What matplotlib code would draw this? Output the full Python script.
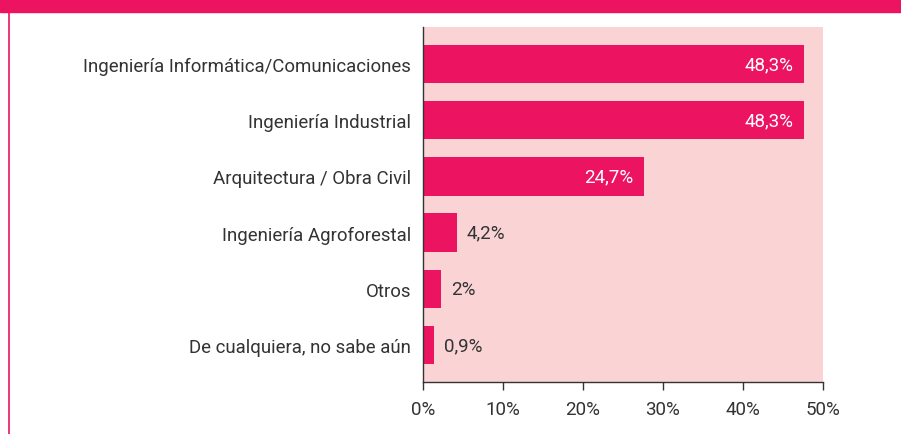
import matplotlib.pyplot as plt
from matplotlib.patches import Rectangle
from matplotlib.lines import Line2D

categories = [
    "Ingeniería Informática/Comunicaciones",
    "Ingeniería Industrial",
    "Arquitectura / Obra Civil",
    "Ingeniería Agroforestal",
    "Otros",
    "De cualquiera, no sabe aún",
]
# bar lengths as drawn in the picture (%)
bar_values = [47.6, 47.6, 27.6, 4.25, 2.3, 1.4]
value_labels = ["48,3%", "48,3%", "24,7%", "4,2%", "2%", "0,9%"]
ticks = [0, 10, 20, 30, 40, 50]
tick_labels = ["0%", "10%", "20%", "30%", "40%", "50%"]

PINK = "#EC1460"
BG = "#FAD4D4"
TXT = "#333333"

plt.rcParams['font.family'] = ['Roboto', 'DejaVu Sans']

fig = plt.figure(figsize=(9.01, 4.35), dpi=100)

# header band and left rule
fig.patches.append(Rectangle((0, 1 - 13 / 435), 1, 13 / 435, transform=fig.transFigure,
                             color=PINK, zorder=0))
fig.lines.append(Line2D([8.5 / 901, 8.5 / 901], [0, 1 - 13 / 435], transform=fig.transFigure,
                        color=PINK, lw=1.2))

ax = fig.add_axes([423 / 901, 52 / 435, 400 / 901, 355 / 435])
ax.set_facecolor(BG)

y = list(range(len(categories)))
ax.barh(y, bar_values, height=0.68, color=PINK, zorder=2)

for yi, v, lab in zip(y, bar_values, value_labels):
    if v > 20:
        ax.text(v - 1.3, yi, lab, color="white", ha="right", va="center", fontsize=13.5)
    else:
        ax.text(v + 1.2, yi, lab, color=TXT, ha="left", va="center", fontsize=13.5)

ax.set_xlim(0, 50)
ax.set_ylim(len(categories) - 1 + 0.66, -0.66)
ax.set_xticks(ticks)
ax.set_xticklabels(tick_labels)
ax.set_yticks(y)
ax.set_yticklabels(categories)
ax.tick_params(axis='y', length=0, pad=8.5, labelsize=13.4, labelcolor=TXT)
ax.tick_params(axis='x', length=6, width=1, color=TXT, pad=7, labelsize=13.5, labelcolor=TXT)

for s in ["top", "right"]:
    ax.spines[s].set_visible(False)
for s in ["left", "bottom"]:
    ax.spines[s].set_color(TXT)
    ax.spines[s].set_linewidth(1)

fig.savefig("out.png", dpi=100)
